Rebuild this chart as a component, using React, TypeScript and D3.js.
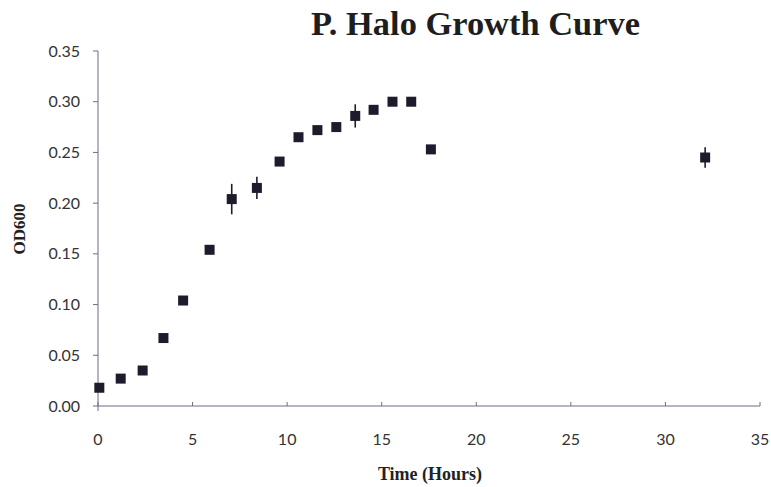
import * as d3 from 'd3';

// time (hours), OD600 and error (±)
const hours = [0.07, 1.2, 2.36, 3.46, 4.5, 5.9, 7.07, 8.4, 9.6, 10.6, 11.6, 12.6, 13.6, 14.57, 15.57, 16.56, 17.6, 32.1];
const od600 = [0.018, 0.027, 0.035, 0.067, 0.104, 0.154, 0.204, 0.215, 0.241, 0.265, 0.272, 0.275, 0.286, 0.292, 0.3, 0.3, 0.253, 0.245];
const errs = [0.002, 0.002, 0.002, 0.002, 0.002, 0.002, 0.015, 0.011, 0.002, 0.002, 0.002, 0.002, 0.0115, 0.002, 0.002, 0.002, 0.002, 0.01];
const xTicks = [0, 5, 10, 15, 20, 25, 30, 35];
const yTicks = [0, 0.05, 0.1, 0.15, 0.2, 0.25, 0.3, 0.35];

const W = 771;
const H = 487;
const plot = { left: 98, right: 760, top: 51, bottom: 406 };
const axisColor = '#6d6d84';
const markColor = '#1c1c2c';
const tickFont = 'Lato, "Open Sans", sans-serif';
const serif = '"Liberation Serif", "DejaVu Serif", serif';

export default function App() {
  const x = d3.scaleLinear().domain([0, 35]).range([plot.left, plot.right]);
  const y = d3.scaleLinear().domain([0, 0.35]).range([plot.bottom, plot.top]);
  const points = hours.map((h, i) => ({ h, v: od600[i], e: errs[i] }));
  const sq = 10;

  return (
    <div style={{ position: 'absolute', left: 0, top: 0, background: '#fff' }}>
      <svg width={W} height={H} style={{ display: 'block' }}>
        <rect width={W} height={H} fill="#fff" />

        <text
          x={311}
          y={35}
          textLength={329}
          lengthAdjust="spacingAndGlyphs"
          fontFamily={serif}
          fontWeight="bold"
          fontSize={33}
          fill="#1e1e1e"
        >
          P. Halo Growth Curve
        </text>

        {/* y axis */}
        <line x1={plot.left} x2={plot.left} y1={plot.top} y2={plot.bottom + 5} stroke={axisColor} strokeWidth={1} />
        {yTicks.map((t) => (
          <g key={'y' + t}>
            <line x1={plot.left - 5} x2={plot.left} y1={y(t)} y2={y(t)} stroke={axisColor} />
            <text x={80} y={y(t)} dy="0.35em" textAnchor="end" fontFamily={tickFont} fontSize={16} fill="#333">
              {d3.format('.2f')(t)}
            </text>
          </g>
        ))}

        {/* x axis */}
        <line x1={plot.left} x2={plot.right} y1={plot.bottom} y2={plot.bottom} stroke={axisColor} strokeWidth={1} />
        {xTicks.map((t) => (
          <g key={'x' + t}>
            <line x1={x(t)} x2={x(t)} y1={plot.bottom} y2={plot.bottom - 4} stroke={axisColor} />
            <text x={x(t)} y={439} dy="0.35em" textAnchor="middle" fontFamily={tickFont} fontSize={16} fill="#333">
              {t}
            </text>
          </g>
        ))}

        <text
          transform={`translate(25,229) rotate(-90)`}
          textAnchor="middle"
          fontFamily={serif}
          fontWeight="bold"
          fontSize={17}
          fill="#222"
        >
          OD600
        </text>
        <text x={430} y={480} textAnchor="middle" fontFamily={serif} fontWeight="bold" fontSize={18} fill="#222">
          Time (Hours)
        </text>

        {/* error bars */}
        {points.map((p, i) => (
          <line
            key={'e' + i}
            x1={x(p.h)}
            x2={x(p.h)}
            y1={y(p.v + p.e)}
            y2={y(p.v - p.e)}
            stroke={markColor}
            strokeWidth={1.6}
          />
        ))}

        {/* markers */}
        {points.map((p, i) => (
          <rect
            key={'p' + i}
            x={x(p.h) - sq / 2}
            y={y(p.v) - sq / 2}
            width={sq}
            height={sq}
            fill={markColor}
          />
        ))}
      </svg>
    </div>
  );
}
